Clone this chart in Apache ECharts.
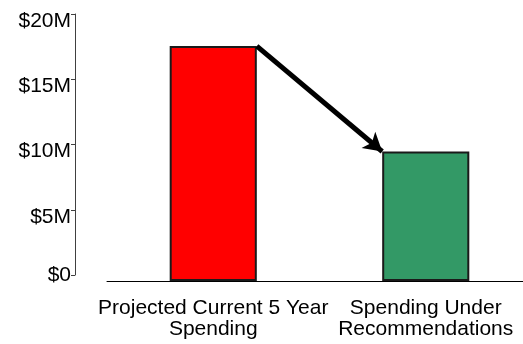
<!DOCTYPE html>
<html>
<head>
<meta charset="utf-8">
<script src="https://cdn.jsdelivr.net/npm/echarts@6/dist/echarts.min.js"></script>
<style>
html, body { margin: 0; padding: 0; background: #fff; }
#chart { width: 523px; height: 344px; }
</style>
</head>
<body>
<div id="chart"></div>
<script>
const categories = ['Projected Current 5 Year\nSpending', 'Spending Under\nRecommendations'];
const spending = [17.6, 9.7]; // $M
const barColors = ['#FF0000', '#339966'];
const yTicks = [0, 5, 10, 15, 20];

const font = '"Liberation Sans", Arial, sans-serif';
const chart = echarts.init(document.getElementById('chart'));

const option = {
  animation: false,
  grid: [
    // y-axis only (drawn a bit apart from the bars, like the original)
    { left: 75, top: 14, width: 1, bottom: 69, outerBoundsMode: 'none' },
    // bars; runs past the right edge
    { left: 107, width: 425, top: 14, bottom: 63, outerBoundsMode: 'none' },
  ],
  xAxis: [
    { gridIndex: 0, type: 'value', show: false },
    {
      gridIndex: 1,
      type: 'category',
      data: categories,
      axisLine: { lineStyle: { color: '#000', width: 1 } },
      axisTick: { length: 5, lineStyle: { color: '#000' } },
      axisLabel: {
        interval: 0,
        margin: 17,
        fontSize: 21,
        lineHeight: 21,
        fontFamily: font,
        color: '#000',
      },
    },
  ],
  yAxis: [
    {
      gridIndex: 0,
      type: 'value',
      min: yTicks[0],
      max: yTicks[yTicks.length - 1],
      interval: yTicks[1] - yTicks[0],
      splitLine: { show: false },
      axisLine: { show: true, lineStyle: { color: '#404040', width: 1 } },
      axisTick: { show: true, length: 4, lineStyle: { color: '#404040' } },
      axisLabel: {
        margin: 4,
        fontSize: 21,
        fontFamily: font,
        color: '#000',
        // labels above $0 sit a little below their ticks in the original
        formatter: (v) => (v ? '{s|$' + v + 'M}' : '{z|$0}'),
        rich: {
          s: { fontSize: 21, fontFamily: font, color: '#000', padding: [14, 0, 0, 0] },
          z: { fontSize: 21, fontFamily: font, color: '#000' },
        },
      },
    },
    {
      gridIndex: 1,
      type: 'value',
      min: yTicks[0],
      max: yTicks[yTicks.length - 1],
      show: false,
    },
  ],
  series: [
    {
      id: 'spend',
      type: 'bar',
      xAxisIndex: 1,
      yAxisIndex: 1,
      barWidth: '41%',
      itemStyle: { borderColor: '#1a1a1a', borderWidth: 2 },
      data: spending.map((v, i) => ({ value: v, itemStyle: { color: barColors[i] } })),
    },
  ],
};

chart.setOption(option);

// arrow from the top-right corner of the first bar to the top-left corner of the second
const p0 = chart.convertToPixel({ seriesIndex: 0 }, [0, spending[0]]);
const p1 = chart.convertToPixel({ seriesIndex: 0 }, [1, spending[1]]);
const half = (p1[0] - p0[0]) * 0.41 / 2;

chart.setOption({
  series: [{
    id: 'spend',
    markLine: {
      silent: true,
      symbol: ['none', 'arrow'],
      symbolSize: [16, 18],
      label: { show: false },
      lineStyle: { color: '#000', width: 5, type: 'solid' },
      data: [[{ x: p0[0] + half, y: p0[1] }, { x: p1[0] - half, y: p1[1] }]],
    },
  }],
});
</script>
</body>
</html>
